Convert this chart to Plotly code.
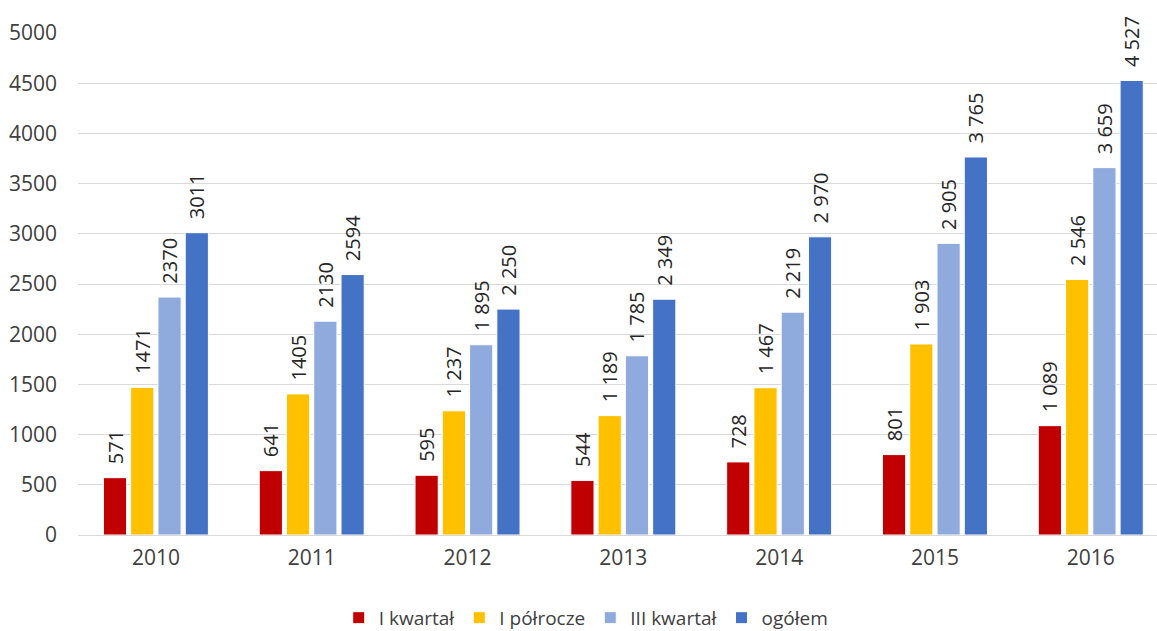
import plotly.graph_objects as go

years = ["2010", "2011", "2012", "2013", "2014", "2015", "2016"]
series_names = ["I kwartał", "I półrocze", "III kwartał", "ogółem"]
q1 = [571, 641, 595, 544, 728, 801, 1089]
h1 = [1471, 1405, 1237, 1189, 1467, 1903, 2546]
q3 = [2370, 2130, 1895, 1785, 2219, 2905, 3659]
total = [3011, 2594, 2250, 2349, 2970, 3765, 4527]
# labels as shown (2010-2011 without thousands separator)
q1_lbl = ["571", "641", "595", "544", "728", "801", "1 089"]
h1_lbl = ["1471", "1405", "1 237", "1 189", "1 467", "1 903", "2 546"]
q3_lbl = ["2370", "2130", "1 895", "1 785", "2 219", "2 905", "3 659"]
total_lbl = ["3011", "2594", "2 250", "2 349", "2 970", "3 765", "4 527"]
colors = ["#C00000", "#FFC000", "#8FAADC", "#4472C4"]

FONT = "Open Sans, Liberation Sans, sans-serif"
PAD = "\u00a0\u00a0"  # small gap between bar top and rotated label

fig = go.Figure()
for name, vals, lbls, col in zip(series_names, [q1, h1, q3, total],
                                 [q1_lbl, h1_lbl, q3_lbl, total_lbl], colors):
    fig.add_trace(go.Bar(
        x=years, y=vals, name=name, text=[PAD + t for t in lbls],
        textposition="outside", textangle=-90, cliponaxis=False,
        constraintext="none",
        textfont=dict(family=FONT, size=20, color="#262626"),
        marker=dict(color=col, line=dict(color="white", width=1)),
    ))

fig.update_layout(
    width=1157, height=631,
    paper_bgcolor="white", plot_bgcolor="white",
    margin=dict(l=78, r=0, t=33, b=96, autoexpand=False),
    barmode="group", bargap=0.3, bargroupgap=0.15,
    font=dict(family=FONT, size=19, color="#404040"),
    legend=dict(orientation="h", x=0.471, xanchor="center", y=-0.165, yanchor="middle",
                font=dict(family=FONT, size=19, color="#404040"),
                itemwidth=30, tracegroupgap=0),
)
fig.update_yaxes(range=[0, 5000], dtick=500, showgrid=True, gridcolor="#d9d9d9",
                 gridwidth=1, zeroline=False, showline=False, automargin=False,
                 ticks="", ticklabelstandoff=20,
                 tickfont=dict(family=FONT, size=21, color="#404040"))
fig.update_xaxes(range=[-0.5, 6.425], showline=True, linecolor="#d9d9d9", linewidth=1,
                 ticks="", automargin=False, ticklabelstandoff=4,
                 tickfont=dict(family=FONT, size=21, color="#404040"))

fig.write_html("out.html", config={"displayModeBar": False},
               post_script="document.body.style.margin='0';document.body.style.overflow='hidden';")
